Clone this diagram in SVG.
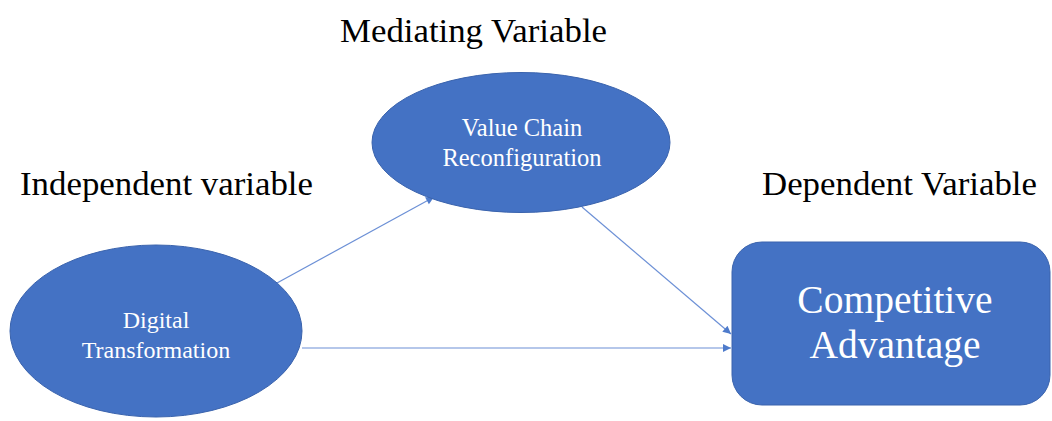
<svg xmlns="http://www.w3.org/2000/svg" width="1052" height="421" viewBox="0 0 1052 421">
  <defs>
    <style>
      .node { fill: #4472C4; stroke: #3A63AD; stroke-width: 1; }
      .label { fill: #FFFFFF; text-anchor: middle; }
      .heading { fill: #000000; font-size: 34px; }
      .link { fill: none; stroke: #6C90D6; stroke-width: 1.2; marker-end: url(#arrow); }
    </style>
    <marker id="arrow" viewBox="0 0 10 10" refX="10" refY="5" markerWidth="9" markerHeight="8" markerUnits="userSpaceOnUse" orient="auto">
      <path d="M0,0 L10,5 L0,10 Z" fill="#4E7BCB"/>
    </marker>
  </defs>

  <rect width="1052" height="421" fill="#FFFFFF"/>

  <g font-family="'Liberation Serif', 'DejaVu Serif', serif">
    <!-- section headings -->
    <g id="headings">
      <text class="heading" x="340" y="42" textLength="267" lengthAdjust="spacingAndGlyphs">Mediating Variable</text>
      <text class="heading" x="20" y="195" textLength="293" lengthAdjust="spacingAndGlyphs">Independent variable</text>
      <text class="heading" x="762" y="195" textLength="275" lengthAdjust="spacingAndGlyphs">Dependent Variable</text>
    </g>

    <!-- connectors -->
    <g id="connectors">
      <line class="link" x1="277" y1="283" x2="434" y2="197"/>
      <line class="link" x1="582" y1="207" x2="731" y2="334"/>
      <line class="link" x1="302" y1="348" x2="731" y2="348"/>
    </g>

    <g id="node-digital-transformation">
      <ellipse class="node" cx="156" cy="331" rx="146" ry="86"/>
      <text class="label" x="156" y="328" font-size="24">Digital</text>
      <text class="label" x="156" y="358" font-size="24">Transformation</text>
    </g>

    <g id="node-value-chain">
      <ellipse class="node" cx="521" cy="142.5" rx="149" ry="70"/>
      <text class="label" x="522" y="136" font-size="24.5">Value Chain</text>
      <text class="label" x="522" y="166" font-size="24.5">Reconfiguration</text>
    </g>

    <g id="node-competitive-advantage">
      <rect class="node" x="732" y="242" width="318" height="163" rx="30" ry="30"/>
      <text class="label" x="895" y="313" font-size="39.5">Competitive</text>
      <text class="label" x="895" y="358" font-size="39.5">Advantage</text>
    </g>
  </g>
</svg>
